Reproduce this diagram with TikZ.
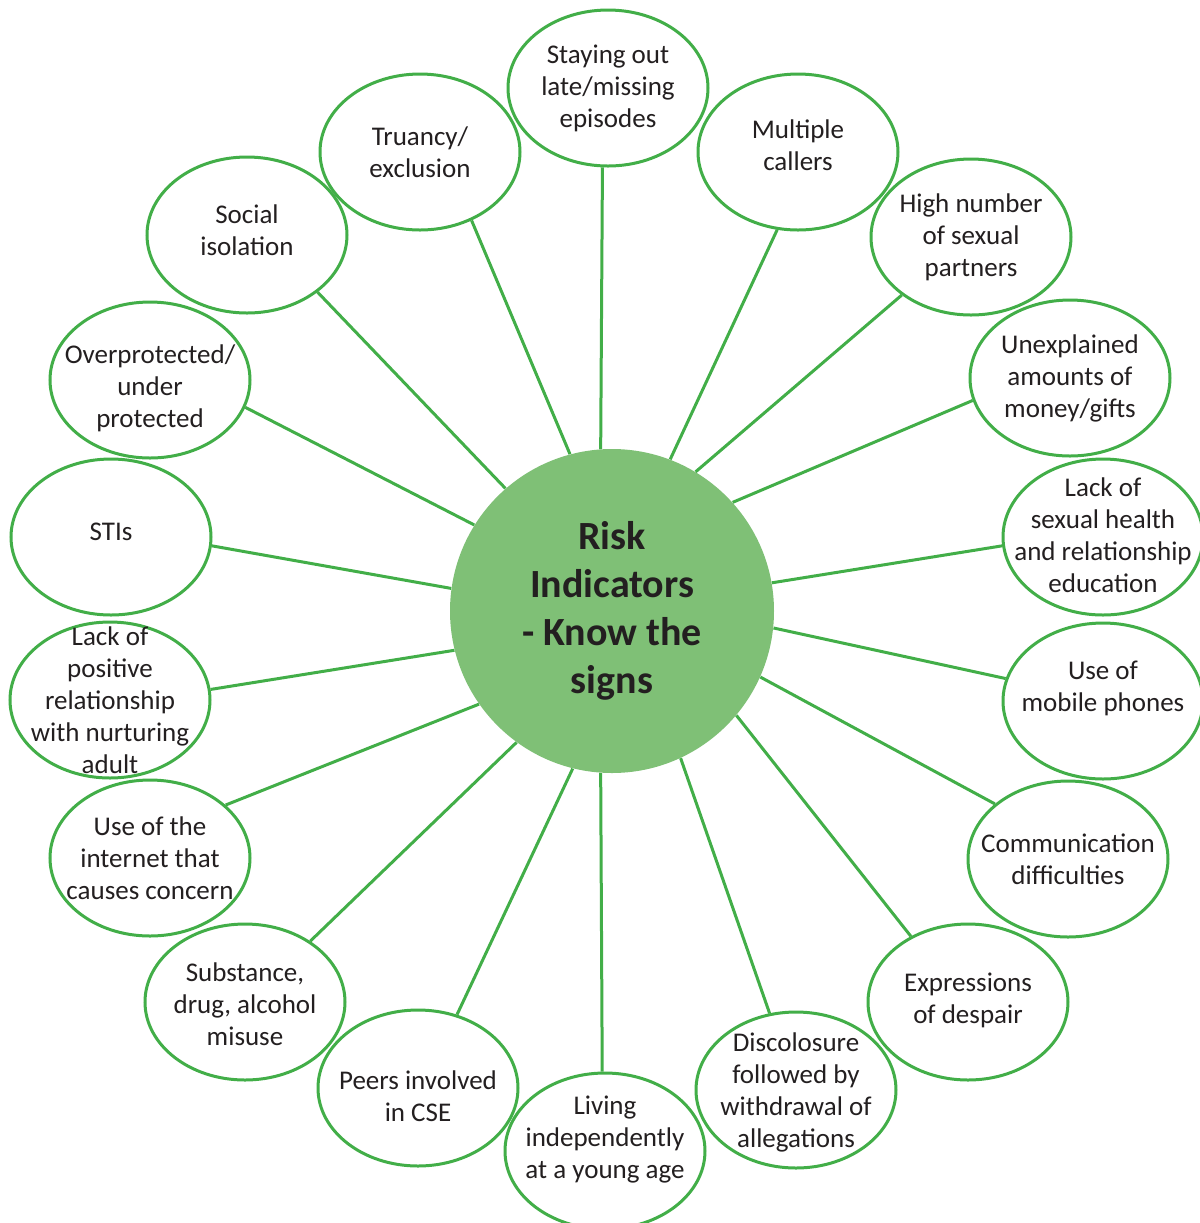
\documentclass[tikz,border=0pt]{standalone}
\usepackage{fontspec}
\setmainfont{Carlito}
\usepackage{tikz}
\usetikzlibrary{shapes.geometric}
\definecolor{mgreen}{RGB}{66, 174, 72}
\definecolor{lgreen}{RGB}{127, 192, 118}
\definecolor{ink}{RGB}{35, 31, 32}
\tikzset{bubble/.style 2 args = {ellipse, draw = mgreen, line width = 1.5pt, fill = white,
                          minimum width = 100pt, minimum height = 78pt, inner sep = 0,
                          label = {[align = center, text = ink, yshift = #2,
                                    font = \fontsize{13.5}{16}\selectfont]center:#1}}}
\tikzset{hub/.style = {circle, fill = lgreen, minimum size = 162pt, inner sep = 0,
                       align = center, text = ink,
                       font = \fontsize{20}{24}\selectfont\bfseries}}
\tikzset{spoke/.style = {mgreen, line width = 1.5pt}}

\begin{document}
\begin{tikzpicture}[x = 0.5pt, y = -0.5pt]
      \useasboundingbox (0, 0) rectangle (1200, 1223);
      \clip (0, 0) rectangle (1200, 1223);

      \node [hub] (risk) at (612, 611) {Risk\\Indicators\\- Know the\\signs};

      \node [bubble = {Staying out\\late/missing\\episodes}{0pt}] (stay) at (608, 88) {};
      \node [bubble = {Multiple\\callers}{3.5pt}] (callers) at (798, 152) {};
      \node [bubble = {High number\\of sexual\\partners}{0pt}] (partners) at (971, 237) {};
      \node [bubble = {Unexplained\\amounts of\\money/gifts}{0pt}] (money) at (1070, 378) {};
      \node [bubble = {Lack of\\sexual health\\and relationship\\education}{1pt}] (sexed) at (1103, 537) {};
      \node [bubble = {Use of\\mobile phones}{6.5pt}] (mobile) at (1103, 701) {};
      \node [bubble = {Communication\\difficulties}{0pt}] (comms) at (1068, 859) {};
      \node [bubble = {Expressions\\of despair}{1pt}] (despair) at (968, 1002) {};
      \node [bubble = {Discolosure\\followed by\\withdrawal of\\allegations}{-1pt}] (disclose) at (796, 1090) {};
      \node [bubble = {Living\\independently\\at a young age}{5.5pt}] (living) at (605, 1151) {};
      \node [bubble = {Peers involved\\in CSE}{-4pt}] (peers) at (418, 1088) {};
      \node [bubble = {Substance,\\drug, alcohol\\misuse}{-1pt}] (substance) at (245, 1002) {};
      \node [bubble = {Use of the\\internet that\\causes concern}{0pt}] (internet) at (150, 858) {};
      \node [bubble = {Lack of\\positive\\relationship\\with nurturing\\adult}{0pt}] (adult) at (110, 700) {};
      \node [bubble = {STIs}{2.5pt}] (stis) at (111, 537) {};
      \node [bubble = {Overprotected/\\under\\protected}{-4pt}] (protect) at (150, 380) {};
      \node [bubble = {Social\\isolation}{2.5pt}] (isolation) at (247, 235) {};
      \node [bubble = {Truancy/\\exclusion}{0pt}] (truancy) at (420, 152) {};

      % spokes from each sign to the hub
      \draw [spoke] (stay.-94) -- (risk.94);
      \draw [spoke] (callers.-105) -- (risk.69);
      \draw [spoke] (partners.-140) -- (risk.59);
      \draw [spoke] (money.-167) -- (risk.42);
      \draw [spoke] (sexed.185) -- (risk.10);
      \draw [spoke] (mobile.167) -- (risk.-6);
      \draw [spoke] (comms.143) -- (risk.-24);
      \draw [spoke] (despair.131) -- (risk.-40);
      \draw [spoke] (disclose.109) -- (risk.-65);
      \draw [spoke] (living.92) -- (risk.-94);
      \draw [spoke] (peers.62) -- (risk.-104);
      \draw [spoke] (substance.43) -- (risk.-126);
      \draw [spoke] (internet.35) -- (risk.-145);
      \draw [spoke] (adult.6) -- (risk.-166);
      \draw [spoke] (stis.-5) -- (risk.172);
      \draw [spoke] (protect.-16) -- (risk.148);
      \draw [spoke] (isolation.-39) -- (risk.131);
      \draw [spoke] (truancy.-53) -- (risk.105);
    \end{tikzpicture}
\end{document}
